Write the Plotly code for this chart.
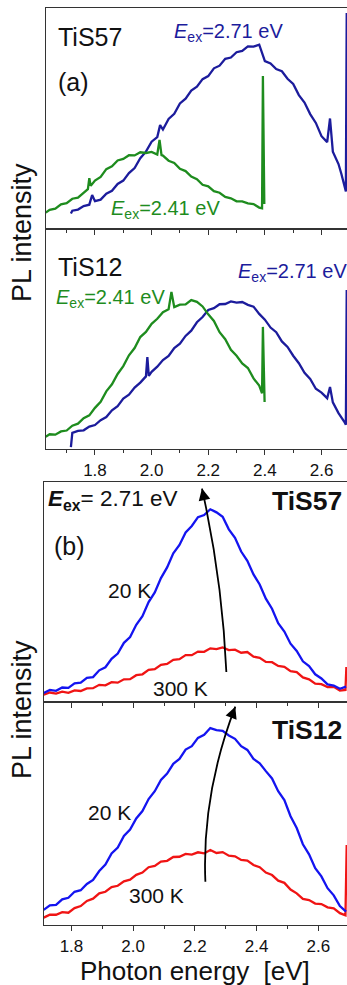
import plotly.graph_objects as go

# ---------------- data (arbitrary units) ----------------
# Panel (a), TiS57
a1_blue_E = [1.715, 1.72, 1.74, 1.76, 1.78, 1.79, 1.80, 1.82, 1.84, 1.86, 1.88, 1.90, 1.92, 1.94,
             1.96, 1.98, 2.00, 2.02, 2.03, 2.04, 2.06, 2.08, 2.10, 2.12, 2.14, 2.16, 2.18, 2.20,
             2.22, 2.24, 2.26, 2.28, 2.30, 2.32, 2.34, 2.36, 2.38, 2.39, 2.40, 2.42, 2.44, 2.46,
             2.48, 2.50, 2.52, 2.54, 2.56, 2.58, 2.60, 2.62, 2.63, 2.64, 2.66, 2.67, 2.68, 2.686,
             2.689]
a1_blue_I = [7.0, 8.3, 8.8, 10.4, 11.0, 15.4, 12.6, 13.3, 16.0, 17.3, 20.4, 21.9, 25.3, 27.6,
             32.0, 35.0, 39.5, 41.6, 47.0, 45.0, 49.8, 52.1, 56.8, 59.0, 62.6, 64.4, 67.8, 69.2,
             72.7, 73.9, 77.0, 77.6, 80.0, 80.6, 82.6, 82.5, 83.4, 80.0, 76.0, 74.9, 72.4, 71.4,
             68.0, 65.6, 60.6, 57.2, 52.0, 48.0, 42.0, 39.3, 50.0, 35.0, 29.4, 25.0, 19.5, 17.0,
             97.7]
a1_green_E = [1.626, 1.64, 1.66, 1.68, 1.70, 1.72, 1.74, 1.76, 1.775, 1.78, 1.785, 1.80, 1.82,
              1.84, 1.86, 1.88, 1.90, 1.92, 1.94, 1.96, 1.98, 2.00, 2.02, 2.028, 2.035, 2.04,
              2.06, 2.08, 2.10, 2.12, 2.14, 2.16, 2.18, 2.20, 2.22, 2.24, 2.26, 2.28, 2.30,
              2.32, 2.34, 2.36, 2.38, 2.39, 2.393, 2.398]
a1_green_I = [7.4, 8.7, 9.2, 11.2, 11.7, 13.7, 14.2, 16.6, 18.0, 23.0, 19.5, 21.9, 23.6,
              27.1, 28.4, 31.0, 31.7, 33.4, 33.3, 34.7, 34.4, 34.9, 33.7, 40.3, 33.4, 33.2,
              30.9, 29.9, 27.2, 26.2, 23.7, 22.5, 20.0, 19.3, 17.1, 16.4, 14.5, 13.9, 12.5,
              12.5, 11.6, 11.3, 9.7, 9.4, 69.2, 11.3]

# Panel (a), TiS12
a2_green_E = [1.626, 1.64, 1.66, 1.68, 1.70, 1.72, 1.74, 1.76, 1.78, 1.80, 1.82, 1.84, 1.86,
              1.88, 1.90, 1.92, 1.94, 1.96, 1.98, 2.00, 2.02, 2.04, 2.06, 2.07, 2.08, 2.10,
              2.12, 2.14, 2.16, 2.18, 2.20, 2.22, 2.24, 2.26, 2.28, 2.30, 2.32, 2.34, 2.36,
              2.38, 2.39, 2.393, 2.399]
a2_green_I = [5.6, 6.7, 6.5, 8.0, 8.4, 10.6, 11.5, 14.0, 15.3, 18.7, 21.5, 26.2, 29.4,
              34.1, 37.7, 42.6, 45.9, 50.9, 53.2, 56.9, 59.2, 62.2, 63.5, 71.4, 64.5, 65.6,
              65.7, 67.7, 66.9, 64.8, 61.2, 58.2, 53.1, 49.9, 45.1, 42.4, 38.9, 36.8, 32.1,
              28.8, 25.3, 55.5, 21.4]
a2_blue_E = [1.715, 1.72, 1.74, 1.76, 1.78, 1.80, 1.82, 1.84, 1.86, 1.88, 1.90, 1.92, 1.94,
             1.96, 1.98, 1.985, 1.99, 2.00, 2.02, 2.04, 2.06, 2.08, 2.10, 2.12, 2.14, 2.16,
             2.18, 2.20, 2.22, 2.24, 2.26, 2.28, 2.30, 2.32, 2.34, 2.36, 2.38, 2.40, 2.42,
             2.44, 2.46, 2.48, 2.50, 2.52, 2.54, 2.56, 2.58, 2.60, 2.62, 2.63, 2.64, 2.66,
             2.68, 2.686, 2.689]
a2_blue_I = [0.9, 7.3, 8.2, 8.5, 10.2, 10.9, 13.1, 14.5, 17.6, 19.5, 22.9, 24.7, 27.9,
             30.2, 33.0, 41.8, 33.2, 35.1, 37.4, 40.4, 42.3, 45.9, 47.9, 51.4, 53.8, 57.6,
             60.0, 63.2, 64.0, 65.8, 65.9, 67.1, 66.5, 66.8, 65.5, 64.7, 61.4, 58.8, 55.2,
             53.1, 48.9, 46.4, 42.4, 39.0, 34.6, 31.8, 27.4, 25.6, 23.1, 28.2, 21.2, 16.3,
             12.5, 11.0, 72.3]

# Panel (b), TiS57
b1_20K_E = [1.71, 1.73, 1.75, 1.77, 1.79, 1.81, 1.83, 1.85, 1.87, 1.89, 1.91, 1.93, 1.95,
            1.97, 1.99, 2.01, 2.03, 2.05, 2.07, 2.09, 2.11, 2.13, 2.15, 2.17, 2.19, 2.21,
            2.23, 2.25, 2.27, 2.29, 2.31, 2.33, 2.35, 2.37, 2.39, 2.41, 2.43, 2.45, 2.47,
            2.49, 2.51, 2.53, 2.55, 2.57, 2.59, 2.61, 2.63, 2.65, 2.67, 2.69]
b1_20K_I = [4.1, 5.5, 5.1, 6.6, 6.4, 8.5, 8.8, 11.0, 11.3, 14.4, 15.8, 19.6, 22.0,
            26.9, 29.5, 35.1, 39.0, 45.4, 49.8, 56.3, 61.2, 67.6, 71.4, 77.1, 80.0, 84.0,
            85.0, 87.6, 86.2, 84.2, 78.5, 74.6, 68.4, 64.2, 58.0, 53.4, 47.0, 42.4, 35.8,
            32.0, 26.5, 23.2, 18.5, 16.3, 12.6, 10.7, 8.0, 7.5, 6.0, 7.0]
b1_300K_E = [1.71, 1.73, 1.75, 1.77, 1.79, 1.81, 1.83, 1.85, 1.87, 1.89, 1.91, 1.93, 1.95,
             1.97, 1.99, 2.01, 2.03, 2.05, 2.07, 2.09, 2.11, 2.13, 2.15, 2.17, 2.19, 2.21,
             2.23, 2.25, 2.27, 2.29, 2.31, 2.33, 2.35, 2.37, 2.39, 2.41, 2.43, 2.45, 2.47,
             2.49, 2.51, 2.53, 2.55, 2.57, 2.59, 2.61, 2.63, 2.65, 2.67, 2.688, 2.691]
b1_300K_I = [3.3, 4.3, 3.8, 4.7, 4.2, 5.3, 5.0, 6.2, 6.3, 7.8, 7.6, 9.0, 8.8,
             10.3, 10.4, 12.2, 12.6, 14.6, 14.9, 16.9, 17.3, 19.2, 19.5, 21.3, 21.3, 22.9,
             22.8, 24.4, 24.0, 24.8, 23.6, 23.8, 22.4, 22.7, 20.6, 20.1, 18.2, 18.1, 16.4,
             16.0, 14.0, 13.6, 11.2, 10.3, 8.3, 8.1, 6.8, 6.9, 5.2, 5.5, 15.9]

# Panel (b), TiS12
b2_20K_E = [1.71, 1.73, 1.75, 1.77, 1.79, 1.81, 1.83, 1.85, 1.87, 1.89, 1.91, 1.93, 1.95,
            1.97, 1.99, 2.01, 2.03, 2.05, 2.07, 2.09, 2.11, 2.13, 2.15, 2.17, 2.19, 2.21,
            2.23, 2.25, 2.27, 2.29, 2.31, 2.33, 2.35, 2.37, 2.39, 2.41, 2.43, 2.45, 2.47,
            2.49, 2.51, 2.53, 2.55, 2.57, 2.59, 2.61, 2.63, 2.65, 2.67, 2.69]
b2_20K_I = [6.8, 8.8, 9.0, 11.5, 12.2, 14.9, 15.6, 18.4, 20.2, 24.2, 27.1, 32.1, 34.7,
            39.9, 42.8, 47.8, 51.1, 56.5, 60.0, 65.1, 67.9, 72.3, 74.5, 78.7, 80.2, 83.9,
            85.3, 88.3, 87.4, 87.1, 85.0, 83.5, 80.2, 78.5, 74.5, 72.5, 69.0, 65.7, 60.0,
            56.0, 48.8, 43.5, 36.2, 31.7, 25.5, 21.8, 16.5, 13.3, 8.5, 6.0]
b2_300K_E = [1.71, 1.73, 1.75, 1.77, 1.79, 1.81, 1.83, 1.85, 1.87, 1.89, 1.91, 1.93, 1.95,
             1.97, 1.99, 2.01, 2.03, 2.05, 2.07, 2.09, 2.11, 2.13, 2.15, 2.17, 2.19, 2.21,
             2.23, 2.25, 2.27, 2.29, 2.31, 2.33, 2.35, 2.37, 2.39, 2.41, 2.43, 2.45, 2.47,
             2.49, 2.51, 2.53, 2.55, 2.57, 2.59, 2.61, 2.63, 2.65, 2.67, 2.688, 2.692]
b2_300K_I = [3.3, 4.6, 4.6, 5.8, 5.5, 7.6, 8.5, 10.8, 11.8, 14.2, 14.9, 17.0, 17.6,
             19.6, 20.3, 22.5, 23.5, 25.9, 26.5, 28.4, 28.8, 30.5, 30.6, 31.9, 31.6, 32.6,
             32.1, 33.6, 32.3, 32.7, 31.1, 30.8, 29.2, 28.9, 26.9, 25.9, 23.5, 22.4, 19.9,
             18.9, 15.9, 14.2, 11.7, 11.2, 9.6, 9.4, 7.9, 7.5, 5.3, 4.3, 35.9]

X_TICKS = [1.8, 2.0, 2.2, 2.4, 2.6]

# ---------------- styling ----------------
W, H = 347, 985
FONT = "Liberation Sans, Arial, sans-serif"
NAVY = "#1c1c9c"
GREEN = "#1e8c1e"
BLUE = "#1414f0"
RED = "#f01414"
AXC = "#333333"


def px(x):
    return x / W


def py(y):
    return 1 - y / H


fig = go.Figure()

traces = [
    (a1_blue_E, a1_blue_I, NAVY, "x", "y"),
    (a1_green_E, a1_green_I, GREEN, "x", "y"),
    (a2_blue_E, a2_blue_I, NAVY, "x2", "y2"),
    (a2_green_E, a2_green_I, GREEN, "x2", "y2"),
    (b1_300K_E, b1_300K_I, RED, "x3", "y3"),
    (b1_20K_E, b1_20K_I, BLUE, "x3", "y3"),
    (b2_300K_E, b2_300K_I, RED, "x4", "y4"),
    (b2_20K_E, b2_20K_I, BLUE, "x4", "y4"),
]
for xs, ys, c, xa, ya in traces:
    fig.add_trace(go.Scatter(x=xs, y=ys, mode="lines", line=dict(color=c, width=2.3),
                             xaxis=xa, yaxis=ya, showlegend=False, hoverinfo="skip"))

XA_RANGE = [1.626, 2.69]
XB_RANGE = [1.71, 2.693]


def xaxis(dom, rng, anchor, labels, mirror):
    return dict(domain=dom, range=rng, anchor=anchor, showgrid=False, zeroline=False,
                showline=True, linecolor=AXC, linewidth=1.3, mirror=mirror,
                tickmode="array", tickvals=X_TICKS, ticktext=[f"{v:.1f}" for v in X_TICKS],
                ticks="outside", ticklen=5, tickwidth=1.3, tickcolor=AXC,
                minor=dict(dtick=0.1, tick0=1.7, ticks="outside", ticklen=3, tickwidth=1.2,
                           tickcolor=AXC, showgrid=False),
                showticklabels=labels, tickfont=dict(family=FONT, size=17, color="#111"),
                automargin=False, fixedrange=True)


def yaxis(dom, anchor):
    return dict(domain=dom, range=[0, 100], anchor=anchor, showgrid=False, zeroline=False,
                showline=True, linecolor=AXC, linewidth=1.3, mirror=False, ticks="",
                showticklabels=False, automargin=False, fixedrange=True)


xa_dom = [px(45.7), 1]
xb_dom = [px(43.7), 1]
ya1 = [py(229), py(8)]
ya2 = [py(449), py(229)]
yb1 = [py(702), py(482)]
yb2 = [py(925), py(702)]

fig.update_layout(
    width=W, height=H, margin=dict(l=0, r=0, t=0, b=0),
    paper_bgcolor="white", plot_bgcolor="white",
    font=dict(family=FONT, color="#111"),
    xaxis=xaxis(xa_dom, XA_RANGE, "y", False, True),
    xaxis2=xaxis(xa_dom, XA_RANGE, "y2", True, True),
    xaxis3=xaxis(xb_dom, XB_RANGE, "y3", False, True),
    xaxis4=xaxis(xb_dom, XB_RANGE, "y4", True, True),
    yaxis=yaxis(ya1, "x"),
    yaxis2=yaxis(ya2, "x2"),
    yaxis3=yaxis(yb1, "x3"),
    yaxis4=yaxis(yb2, "x4"),
)

ann = []


def text(x, y, s, size, color="#111", xanchor="left", angle=0):
    ann.append(dict(x=px(x), y=py(y), xref="paper", yref="paper", text=s, showarrow=False,
                    xanchor=xanchor, yanchor="middle", textangle=angle,
                    font=dict(family=FONT, size=size, color=color)))


EX = "<i>E</i><sub>ex</sub>"
text(56, 37, "TiS57", 25)
text(56, 82, "(a)", 25)
text(172, 33, EX + "=2.71 eV", 20, NAVY)
text(109, 209, EX + "=2.41 eV", 20, GREEN)
text(56, 267, "TiS12", 25)
text(54, 299, EX + "=2.41 eV", 20, GREEN)
text(236, 273, EX + "=2.71 eV", 20, NAVY)

text(46, 500, "<b><i>E</i><sub>ex</sub></b>= 2.71 eV", 22.5)
text(344, 501, "<b>TiS57</b>", 26.5, xanchor="right")
text(52, 546, "(b)", 25)
text(106, 590, "20 K", 21)
text(151, 688, "300 K", 21)
text(344, 730, "<b>TiS12</b>", 26.5, xanchor="right")
text(86, 812, "20 K", 21)
text(127, 895, "300 K", 21)

text(22, 233, "PL intensity", 27, xanchor="center", angle=-90)
text(22, 710, "PL intensity", 27, xanchor="center", angle=-90)
text(195, 971, "Photon energy&nbsp; [eV]", 26, xanchor="center")

# curved arrows (start, control, end in data coordinates) and head offsets in pixels
ARROWS = [
    ("x3", "y3", (2.302, 13.6), (2.289, 55.5), (2.223, 97.0), (3.2, 14.6)),
    ("x4", "y4", (2.234, 19.4), (2.222, 58.6), (2.331, 97.9), (-5.4, 14.0)),
]
shapes = []
for xa, ya, s, c, e, (ax, ay) in ARROWS:
    shapes.append(dict(type="path", xref=xa, yref=ya,
                       path=f"M {s[0]},{s[1]} Q {c[0]},{c[1]} {e[0]},{e[1]}",
                       line=dict(color="black", width=1.8)))
    ann.append(dict(x=e[0], y=e[1], xref=xa, yref=ya, ax=ax, ay=ay, axref="pixel",
                    ayref="pixel", showarrow=True, arrowhead=2, arrowsize=1.3,
                    arrowwidth=1.8, arrowcolor="black", text=" "))

fig.update_layout(annotations=ann, shapes=shapes)
fig.write_html("out.html", config={"displayModeBar": False},
               post_script="document.body.style.margin='0px';"
                           "document.body.style.overflow='hidden';")
